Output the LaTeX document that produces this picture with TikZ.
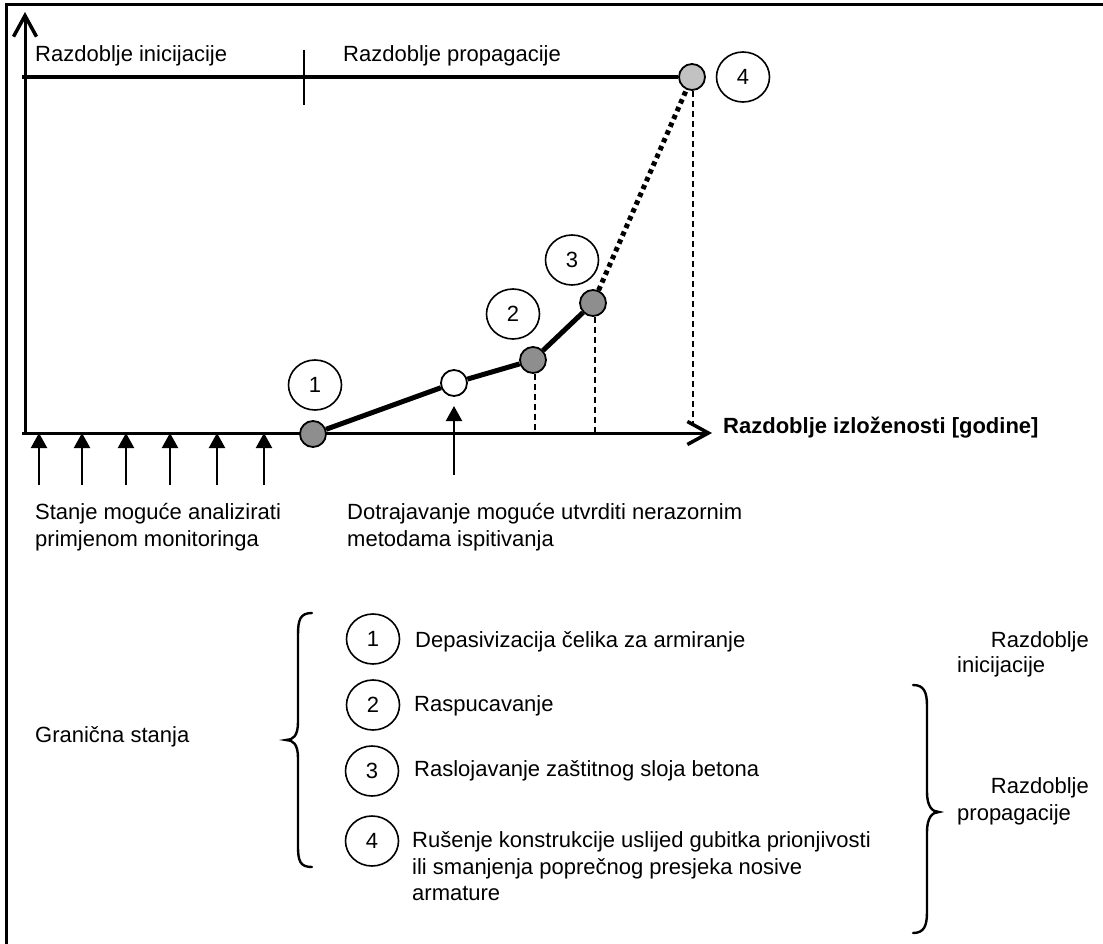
\documentclass[tikz,border=0pt]{standalone}
\usepackage{fontspec}
\setmainfont{Liberation Sans}
\usetikzlibrary{arrows.meta,shapes.geometric}
\definecolor{ptdark}{HTML}{8E8E8E}
\definecolor{ptlight}{HTML}{C2C2C2}
\begin{document}
\begin{tikzpicture}[x=1pt,y=-1pt,
  txt/.style={inner sep=0pt, font=\fontsize{22}{27}\selectfont},
  btxt/.style={inner sep=0pt, font=\fontsize{22}{27}\selectfont\bfseries},
  ptc/.style={circle, draw, line width=1.8pt, minimum size=26pt, inner sep=0pt},
  lab/.style={ellipse, draw, line width=1.6pt, minimum width=53pt, minimum height=50pt, inner sep=0pt, font=\fontsize{22}{27}\selectfont},
  vdash/.style={line width=1.7pt, dash pattern=on 6pt off 4pt},
  uparr/.style={line width=2.2pt, -{Triangle[length=15pt,width=16pt]}},
  axisarr/.style={line width=3pt, -{Straight Barb[length=21pt,width=23pt,line width=3.5pt]}},
  bracestyle/.style={line width=2.4pt, line cap=round}
]
\useasboundingbox (0,0) rectangle (1103,944);
% frame
\coordinate (fbl) at (6,944);
\coordinate (ftl) at (6,5);
\coordinate (ftr) at (1103,5);
\draw[line width=3pt] (fbl) -- (ftl) -- (ftr);

% axes
\coordinate (xo) at (22,433);
\coordinate (xend) at (712,433);
\coordinate (yo) at (25,433);
\coordinate (yend) at (25,12);
\draw[axisarr] (xo) -- (xend);
\draw[axisarr] (yo) -- (yend);

% period tick
\coordinate (tk1) at (304,50);
\coordinate (tk2) at (304,105);
\draw[line width=1.4pt] (tk1) -- (tk2);

% points
\node[ptc, fill=ptdark] (p1) at (313,434) {};
\node[ptc, fill=white] (pw) at (454,383) {};
\node[ptc, fill=ptdark] (p2) at (533,360) {};
\node[ptc, fill=ptdark] (p3) at (593,303) {};
\node[ptc, fill=ptlight] (p4) at (692,77) {};

% top line
\coordinate (tl) at (22,77);
\draw[line width=3.8pt] (tl) -- (p4.west);

% dashed verticals
\coordinate (d2) at (535,433);
\coordinate (d3) at (595,433);
\coordinate (d4) at (693,424);
\draw[vdash] (p2.south -| d2) -- (d2);
\draw[vdash] (p3.south -| d3) -- (d3);
\draw[vdash] (p4.south -| d4) -- (d4);

% curve
\draw[line width=5pt] (p1) -- (pw) -- (p2) -- (p3);
\draw[line width=5pt, dash pattern=on 4.5pt off 4pt] (p3) -- (p4);

% chart labels
\node[lab] (l1) at (315,385) {1};
\node[lab] (l2) at (513,314) {2};
\node[lab] (l3) at (572,260) {3};
\node[lab] (l4) at (743,77) {4};

% monitoring arrows
\foreach \i/\x in {a/39,b/82,c/126,d/170,e/217,f/264}{
  \coordinate (ua\i) at (\x,485);
  \coordinate (ub\i) at (\x,433);
  \draw[uparr] (ua\i) -- (ub\i);
}
\coordinate (ma) at (454,475);
\coordinate (mb) at (454,406);
\draw[uparr] (ma) -- (mb);

% texts
\node[txt, anchor=base west] (tinit) at (35,62) {Razdoblje inicijacije};
\node[txt, anchor=base west] (tprop) at (343,62) {Razdoblje propagacije};
\node[btxt, anchor=base west] (taxis) at (723,433) {Razdoblje izloženosti [godine]};
\node[txt, anchor=base west] (ts1) at (35,519) {Stanje moguće analizirati};
\node[txt, anchor=base west] (ts2) at (35,546) {primjenom monitoringa};
\node[txt, anchor=base west] (td1) at (347,519) {Dotrajavanje moguće utvrditi nerazornim};
\node[txt, anchor=base west] (td2) at (347,546) {metodama ispitivanja};

% legend
\node[txt, anchor=base west] (tgs) at (35,742) {Granična stanja};
\draw[bracestyle] (312,613) .. controls (300,613) and (298,620) .. (298,635) -- (298,722)
  .. controls (298,736) and (293,740) .. (286,740)
  .. controls (293,740) and (298,744) .. (298,758) -- (298,846)
  .. controls (298,861) and (300,867) .. (312,867);

\node[lab] (g1) at (373,639) {1};
\node[lab] (g2) at (373,705) {2};
\node[lab] (g3) at (372,771) {3};
\node[lab] (g4) at (372,841) {4};
\node[txt, anchor=base west] (t1) at (415,647) {Depasivizacija čelika za armiranje};
\node[txt, anchor=base west] (t2) at (414,711) {Raspucavanje};
\node[txt, anchor=base west] (t3) at (414,776) {Raslojavanje zaštitnog sloja betona};
\node[txt, anchor=base west] (t4a) at (412,847) {Rušenje konstrukcije uslijed gubitka prionjivosti};
\node[txt, anchor=base west] (t4b) at (412,874) {ili smanjenja poprečnog presjeka nosive};
\node[txt, anchor=base west] (t4c) at (412,900) {armature};

\draw[bracestyle] (913,685) .. controls (924,685) and (927,692) .. (927,706) -- (927,792)
  .. controls (927,806) and (932,812) .. (939,812)
  .. controls (932,812) and (927,818) .. (927,832) -- (927,912)
  .. controls (927,926) and (924,933) .. (913,933);

\node[txt, anchor=base east] (ri1) at (1089,647) {Razdoblje};
\node[txt, anchor=base west] (ri2) at (957,672) {inicijacije};
\node[txt, anchor=base east] (rp1) at (1089,793) {Razdoblje};
\node[txt, anchor=base west] (rp2) at (957,820) {propagacije};
\end{tikzpicture}
\end{document}
